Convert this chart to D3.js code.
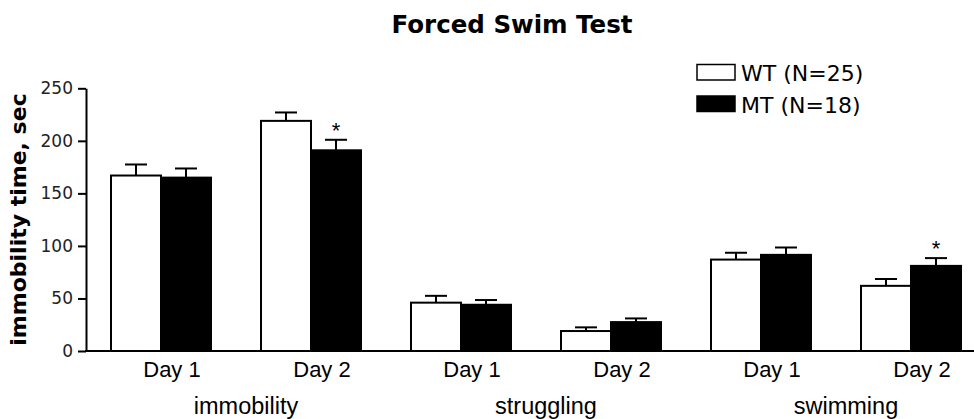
<!DOCTYPE html>
<html>
<head>
<meta charset="utf-8">
<script src="https://cdn.jsdelivr.net/npm/d3@7"></script>
<style>
  html, body { margin: 0; padding: 0; background: #fff; }
  svg { display: block; }
</style>
</head>
<body>
<svg id="chart" width="974" height="419"></svg>
<script>
// ---- data ----
const categories = ["immobility", "struggling", "swimming"];
const days = ["Day 1", "Day 2"];
const groups = ["WT", "MT"];
const legendLabels = ["WT (N=25)", "MT (N=18)"];
const wtValues = [167, 219, 46, 19, 87, 62];
const wtErrors = [10.5, 8, 6.5, 3.5, 6.5, 6.5];
const mtValues = [165, 191, 44, 27.5, 91.5, 81];
const mtErrors = [8.7, 10, 4.5, 3.5, 7, 7.4];
const mtSignificant = [false, true, false, false, false, true];
const yTicks = [0, 50, 100, 150, 200, 250];

// ---- layout ----
const svg = d3.select("#chart");
const W = 974;
const axisX = 86;
const baseY = 351;
const topY = 88.3;

const slots = [];
categories.forEach(c => days.forEach(d => slots.push(c + "|" + d)));

const x = d3.scaleBand().domain(slots).range([axisX, axisX + 900])
  .paddingInner(1 / 3).paddingOuter(1 / 6);
const xSub = d3.scaleBand().domain(groups).range([0, x.bandwidth()]);
const y = d3.scaleLinear().domain([0, 250]).range([baseY, topY]);

const rows = [];
slots.forEach((s, i) => {
  rows.push({ slot: s, g: "WT", v: wtValues[i], e: wtErrors[i], sig: false });
  rows.push({ slot: s, g: "MT", v: mtValues[i], e: mtErrors[i], sig: mtSignificant[i] });
});

// title
svg.append("text")
  .attr("x", 512).attr("y", 33)
  .attr("text-anchor", "middle")
  .attr("font-family", "DejaVu Sans, Verdana, sans-serif")
  .attr("font-weight", "bold")
  .attr("font-size", 24.5)
  .text("Forced Swim Test");

// y axis label
svg.append("text")
  .attr("transform", "translate(26,219.5) rotate(-90)")
  .attr("text-anchor", "middle")
  .attr("font-family", "DejaVu Sans, Verdana, sans-serif")
  .attr("font-weight", "bold")
  .attr("font-size", 22)
  .text("immobility time, sec");

// error bars
const capW = 22;
const eb = svg.append("g").attr("stroke", "#000").attr("stroke-width", 2);
rows.forEach(r => {
  const cx = x(r.slot) + xSub(r.g) + xSub.bandwidth() / 2;
  eb.append("line").attr("x1", cx).attr("x2", cx).attr("y1", y(r.v)).attr("y2", y(r.v + r.e));
  eb.append("line").attr("x1", cx - capW / 2).attr("x2", cx + capW / 2)
    .attr("y1", y(r.v + r.e)).attr("y2", y(r.v + r.e));
});

// bars
svg.append("g").selectAll("rect").data(rows).join("rect")
  .attr("x", d => x(d.slot) + xSub(d.g))
  .attr("y", d => y(d.v))
  .attr("width", xSub.bandwidth())
  .attr("height", d => baseY - y(d.v))
  .attr("fill", d => d.g === "WT" ? "#fff" : "#000")
  .attr("stroke", "#000")
  .attr("stroke-width", 2);

// significance stars
svg.append("g").selectAll("text").data(rows.filter(r => r.sig)).join("text")
  .attr("x", d => x(d.slot) + xSub(d.g) + xSub.bandwidth() / 2)
  .attr("y", d => y(d.v + d.e) - 2)
  .attr("text-anchor", "middle")
  .attr("font-family", "Liberation Sans, Arial, sans-serif")
  .attr("font-size", 22)
  .text("*");

// y axis
const yAxis = d3.axisLeft(y).tickValues(yTicks).tickSize(8).tickPadding(5).tickSizeOuter(0);
const gy = svg.append("g").attr("transform", `translate(${axisX},0)`).call(yAxis);
gy.select(".domain").attr("stroke", "#000").attr("stroke-width", 2);
gy.selectAll(".tick line").attr("stroke", "#000").attr("stroke-width", 2);
gy.selectAll(".tick text")
  .attr("font-family", "DejaVu Sans, Verdana, sans-serif")
  .attr("font-size", 17)
  .attr("fill", "#222");

// x axis baseline
const xAxis = d3.axisBottom(x).tickSize(0).tickFormat(() => "");
const gx = svg.append("g").attr("transform", `translate(0,${baseY})`).call(xAxis);
gx.select(".domain").remove();
gx.append("line").attr("x1", axisX - 1).attr("x2", W).attr("y1", 0).attr("y2", 0)
  .attr("stroke", "#000").attr("stroke-width", 2);

// day labels
svg.append("g").selectAll("text").data(slots).join("text")
  .attr("x", d => x(d) + x.bandwidth() / 2 + 11)
  .attr("y", 377)
  .attr("text-anchor", "middle")
  .attr("font-family", "Liberation Sans, Arial, sans-serif")
  .attr("font-size", 22)
  .text(d => d.split("|")[1]);

// category labels
svg.append("g").selectAll("text").data(categories).join("text")
  .attr("x", c => {
    const a = x(c + "|" + days[0]);
    const b = x(c + "|" + days[1]) + x.bandwidth();
    return (a + b) / 2 + 10;
  })
  .attr("y", 414)
  .attr("text-anchor", "middle")
  .attr("font-family", "Liberation Sans, Arial, sans-serif")
  .attr("font-size", 23.5)
  .text(c => c);

// legend
const lg = svg.append("g");
groups.forEach((g, i) => {
  const ly = 64.5 + i * 31.5;
  lg.append("rect").attr("x", 697).attr("y", ly).attr("width", 38).attr("height", 15.5)
    .attr("fill", g === "WT" ? "#fff" : "#000").attr("stroke", "#000").attr("stroke-width", 1.5);
  lg.append("text").attr("x", 741).attr("y", ly + 16.5)
    .attr("font-family", "DejaVu Sans, Verdana, sans-serif")
    .attr("font-size", 22)
    .text(legendLabels[i]);
});
</script>
</body>
</html>
